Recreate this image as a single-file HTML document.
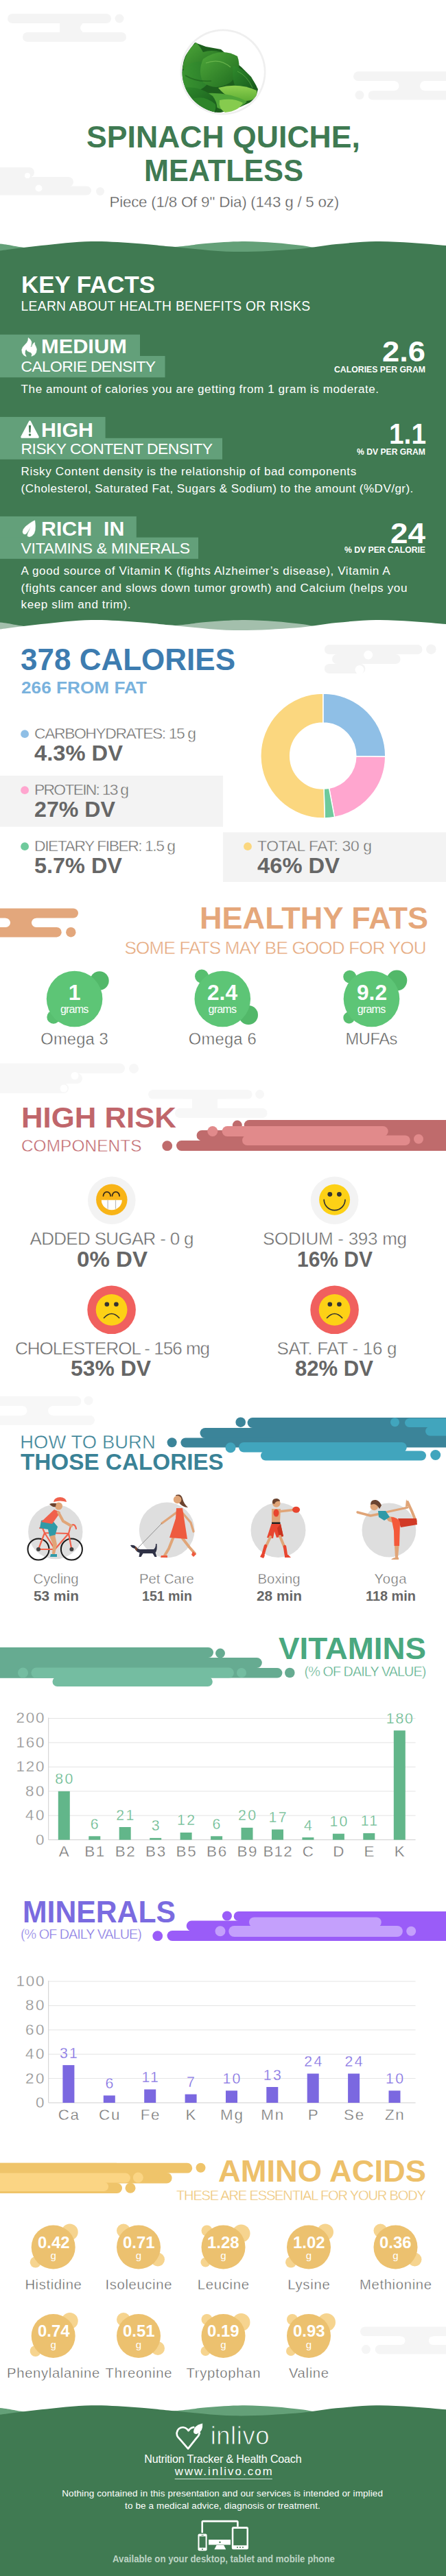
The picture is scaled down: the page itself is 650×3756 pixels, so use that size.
<!DOCTYPE html>
<html lang="en"><head><meta charset="utf-8"><title>Spinach Quiche, Meatless - Nutrition Facts</title>
<style>
html,body{margin:0;padding:0;background:#fff;}
#pg{position:relative;width:650px;height:3756px;overflow:hidden;background:#fff;font-family:"Liberation Sans",Arial,sans-serif;}
#pg svg.bg{position:absolute;left:0;top:0;}
.t{position:absolute;white-space:pre;line-height:1;margin:0;padding:0;}
</style></head><body>
<div id="pg">
<svg class="bg" width="650" height="3756" viewBox="0 0 650 3756">
<rect x="11" y="20" width="151" height="14" rx="7.0" fill="#f4f4f4"/>
<circle cx="174" cy="27" r="6.5" fill="#f4f4f4" />
<rect x="33" y="47" width="151" height="14" rx="7.0" fill="#f4f4f4"/>
<rect x="87" y="30" width="33" height="20" rx="0" fill="#f4f4f4"/>
<rect x="117" y="34" width="48" height="13" rx="6.5" fill="#fff"/>
<rect x="515" y="104.3" width="185" height="13.700000000000003" rx="6.850000000000001" fill="#f4f4f4"/>
<rect x="536.6" y="132.3" width="163.39999999999998" height="13.299999999999983" rx="6.6499999999999915" fill="#f4f4f4"/>
<circle cx="524" cy="138.6" r="6.5" fill="#f4f4f4" />
<rect x="575" y="110" width="43" height="28" rx="0" fill="#f4f4f4"/>
<rect x="500" y="118" width="81.5" height="14.300000000000011" rx="7.150000000000006" fill="#fff"/>
<rect x="612" y="118" width="88" height="14.300000000000011" rx="7.150000000000006" fill="#fff"/>
<rect x="-20" y="244" width="70" height="14.5" rx="7.25" fill="#f4f4f4"/>
<rect x="-20" y="258" width="127" height="14.5" rx="7.25" fill="#f4f4f4"/>
<rect x="-20" y="271.5" width="153" height="13.0" rx="6.5" fill="#f4f4f4"/>
<rect x="0" y="250" width="40" height="30" rx="0" fill="#f4f4f4"/>
<circle cx="146" cy="279" r="6" fill="#f4f4f4" />
<circle cx="40" cy="256" r="4" fill="#fff" />
<circle cx="56.5" cy="274.5" r="5" fill="#fff" />
<defs><clipPath id="spc"><circle cx="325" cy="105" r="59.500"/></clipPath><linearGradient id="lf1" x1="0" y1="0" x2="1" y2="1"><stop offset="0" stop-color="#4fa83a"/><stop offset="1" stop-color="#1f6b1f"/></linearGradient><linearGradient id="lf2" x1="0" y1="0" x2="1" y2="1"><stop offset="0" stop-color="#2f8a2c"/><stop offset="1" stop-color="#16561a"/></linearGradient><linearGradient id="lf3" x1="0" y1="0" x2="0" y2="1"><stop offset="0" stop-color="#8fd050"/><stop offset="1" stop-color="#5fae35"/></linearGradient><linearGradient id="lf4" x1="0" y1="0" x2="1" y2="0"><stop offset="0" stop-color="#3b9631"/><stop offset="1" stop-color="#2a7d2a"/></linearGradient></defs>
<circle cx="325" cy="105" r="62.5" fill="#efefef" />
<circle cx="325" cy="105" r="59.8" fill="#fff" />
<g clip-path="url(#spc)"><path d="M262,120 L268,84 L284,62 L300,68 L322,72 L340,88 L352,98 L366,112 L376,130 L372,146 L350,156 L322,164 L290,166 L262,150 Z" fill="#1d5f1d"/><path d="M266,100 q4,-26 20,-38 q6,6 10,14 q12,-4 26,0 q-8,14 -22,24 q-16,12 -34,0 Z" fill="url(#lf1)"/><path d="M262,112 q10,-24 32,-22 q18,10 12,28 q-14,20 -40,16 Z" fill="url(#lf4)"/><path d="M296,86 q26,-18 50,-4 q8,22 -10,38 q-22,14 -40,0 q-8,-16 0,-34 Z" fill="url(#lf1)"/><path d="M300,92 q20,-8 36,6" fill="none" stroke="#79c257" stroke-width="1.2" stroke-opacity="0.7"/><path d="M340,96 q22,6 34,30 q-4,12 -22,10 q-16,-10 -12,-40 Z" fill="url(#lf2)"/><path d="M346,104 q14,6 22,24" fill="none" stroke="#5fb048" stroke-width="1" stroke-opacity="0.7"/><path d="M318,128 q30,-8 56,4 q2,10 -8,14 q-28,6 -48,-18 Z" fill="url(#lf3)"/><path d="M300,136 q34,-2 60,12 q-10,12 -36,12 q-20,-6 -24,-24 Z" fill="#4fa538"/><path d="M320,146 q20,-4 34,4 q-6,12 -26,14 q-10,-6 -8,-18 Z" fill="#86cb4e"/><path d="M266,128 q24,-4 44,12 q10,14 4,26 q-30,6 -50,-14 Z" fill="url(#lf2)"/><path d="M280,144 q18,-6 34,8 q2,10 -6,16 q-20,0 -28,-24 Z" fill="#2d8429"/><path d="M270,110 q16,10 38,8" fill="none" stroke="#1a5a1a" stroke-width="1.5" stroke-opacity="0.6"/></g>
<path d="M-62.0,352.0 C-51.7,352.6 -17.8,353.9 0.0,355.6 C17.8,357.3 21.7,360.1 45.0,362.0 C68.3,363.9 105.2,367.3 140.0,367.0 C174.8,366.7 227.3,362.0 254.0,360.0 C280.7,358.0 283.5,356.3 300.0,355.0 C316.5,353.7 336.3,352.2 353.0,352.0 C369.7,351.8 385.5,353.0 400.0,354.0 C414.5,355.0 428.3,356.7 440.0,358.0 C451.7,359.3 450.0,360.5 470.0,362.0 C490.0,363.5 530.0,367.0 560.0,367.0 C590.0,367.0 633.3,363.0 650.0,362.0 C666.7,361.0 658.3,361.2 660.0,361.0 L660,500 L-62,500 Z" fill="#64a078"/>
<path d="M-10.0,366.5 C-8.3,366.3 -11.7,366.9 0.0,365.5 C11.7,364.1 37.8,360.2 60.0,358.0 C82.2,355.8 109.7,352.5 133.0,352.0 C156.3,351.5 180.5,353.7 200.0,355.0 C219.5,356.3 226.7,357.6 250.0,359.6 C273.3,361.6 310.0,366.4 340.0,367.0 C370.0,367.6 405.0,365.3 430.0,363.5 C455.0,361.7 470.3,357.9 490.0,356.0 C509.7,354.1 529.7,352.3 548.0,352.0 C566.3,351.7 583.0,353.0 600.0,354.0 C617.0,355.0 640.0,357.2 650.0,358.0 C660.0,358.8 658.3,358.8 660.0,359.0 L660,930 L-10,930 Z" fill="#407a52"/>
<path d="M-62.0,904.0 C-51.7,904.6 -17.8,905.9 0.0,907.6 C17.8,909.3 21.7,912.1 45.0,914.0 C68.3,915.9 105.2,919.3 140.0,919.0 C174.8,918.7 227.3,914.0 254.0,912.0 C280.7,910.0 283.5,908.3 300.0,907.0 C316.5,905.7 336.3,904.2 353.0,904.0 C369.7,903.8 385.5,905.0 400.0,906.0 C414.5,907.0 428.3,908.7 440.0,910.0 C451.7,911.3 450.0,912.5 470.0,914.0 C490.0,915.5 530.0,919.0 560.0,919.0 C590.0,919.0 633.3,915.0 650.0,914.0 C666.7,913.0 658.3,913.2 660.0,913.0 L660,940 L-62,940 Z" fill="#fff" fill-opacity="0.52"/>
<path d="M-10.0,918.5 C-8.3,918.3 -11.7,918.9 0.0,917.5 C11.7,916.1 37.8,912.2 60.0,910.0 C82.2,907.8 109.7,904.5 133.0,904.0 C156.3,903.5 180.5,905.7 200.0,907.0 C219.5,908.3 226.7,909.6 250.0,911.6 C273.3,913.6 310.0,918.4 340.0,919.0 C370.0,919.6 405.0,917.3 430.0,915.5 C455.0,913.7 470.3,909.9 490.0,908.0 C509.7,906.1 529.7,904.3 548.0,904.0 C566.3,903.7 583.0,905.0 600.0,906.0 C617.0,907.0 640.0,909.2 650.0,910.0 C660.0,910.8 658.3,910.8 660.0,911.0 L660,940 L-10,940 Z" fill="#fff"/>
<rect x="0" y="487.8" width="204" height="31.69999999999999" rx="0" fill="#63a07a"/>
<rect x="0" y="519" width="240.5" height="31.299999999999955" rx="0" fill="#63a07a"/>
<rect x="0" y="607.9" width="153.6" height="31.300000000000068" rx="0" fill="#63a07a"/>
<rect x="0" y="638.8" width="324" height="31.0" rx="0" fill="#63a07a"/>
<rect x="0" y="752.9" width="198.8" height="31.100000000000023" rx="0" fill="#63a07a"/>
<rect x="0" y="783.6" width="289" height="31.199999999999932" rx="0" fill="#63a07a"/>
<path d="M41.24,492.57 L44.29,495.24 L45.97,498.67 L45.66,502.10 L44.67,505.91 L46.43,505.91 L46.73,504.39 L48.10,501.34 L50.39,499.28 L50.77,502.48 L52.30,505.53 L53.44,509.34 L52.68,513.91 L50.39,517.34 L45.97,519.40 L46.58,516.35 L45.05,513.91 L42.39,513.00 L39.72,511.63 L38.20,508.96 L36.67,511.63 L36.29,515.44 L38.20,519.63 L34.77,518.11 L32.48,514.68 L31.72,510.10 L33.24,506.29 L35.91,503.24 L39.34,499.43 L40.86,496.38 Z" fill="#fff" stroke="#fff" stroke-width="0.6" stroke-linejoin="round"/>
<path d="M42.100,614.200 a1.600,1.600 0 0 1 2.800,0 L56.500,636.200 a1.700,1.700 0 0 1 -1.500,2.600 H32 a1.700,1.700 0 0 1 -1.500,-2.600 Z" fill="#fff"/>
<path d="M41.900,620.300 h3.200 l-0.600,10.400 h-2 Z" fill="#407a52"/><circle cx="43.500" cy="634" r="1.800" fill="#407a52"/>
<path d="M50.77,758.86 L47.34,760.38 L42.77,763.43 L37.43,767.62 L34.00,771.82 L33.01,775.63 L34.00,778.30 L36.29,779.06 L38.20,778.30 L41.24,774.10 L43.91,769.15 L44.67,767.62 L43.15,772.58 L40.86,777.15 L39.87,780.58 L40.48,782.11 L43.15,782.64 L46.58,781.34 L49.63,777.91 L51.15,773.34 L51.53,767.24 L51.15,761.91 Z" fill="#fff" stroke="#fff" stroke-width="0.5" stroke-linejoin="round"/>
<rect x="472.8" y="940" width="142.7" height="14" rx="7.0" fill="#f4f4f4"/>
<circle cx="628.3" cy="946.7" r="7.2" fill="#f4f4f4" />
<rect x="484" y="954" width="99.60000000000002" height="14" rx="7.0" fill="#f4f4f4"/>
<rect x="500" y="947" width="72" height="14" rx="0" fill="#f4f4f4"/>
<rect x="472.8" y="968" width="59.599999999999966" height="14" rx="7.0" fill="#f4f4f4"/>
<rect x="496" y="961" width="26" height="14" rx="0" fill="#f4f4f4"/>
<circle cx="536.7" cy="955" r="6.5" fill="#fff" />
<circle cx="524" cy="976.5" r="6.5" fill="#fff" />
<rect x="0" y="1131" width="325" height="74.5" rx="0" fill="#f3f3f3"/>
<rect x="325" y="1213.5" width="325" height="72.5" rx="0" fill="#f3f3f3"/>
<circle cx="36.1" cy="1070.2" r="5.9" fill="#8fbfe6" />
<circle cx="36.1" cy="1152.2" r="5.9" fill="#ffa6cf" />
<circle cx="36.1" cy="1234.2" r="5.9" fill="#6fca9c" />
<circle cx="361.0" cy="1234.2" r="5.9" fill="#fbd77f" />
<path d="M470.80,1011.00 A91,91 0 0 1 561.79,1103.20 L518.80,1102.63 A48,48 0 0 0 470.80,1054.00 Z" fill="#8fbfe6" stroke="#fff" stroke-width="1.5" stroke-linejoin="round"/>
<path d="M561.79,1103.20 A91,91 0 0 1 487.52,1191.45 L479.62,1149.18 A48,48 0 0 0 518.80,1102.63 Z" fill="#ffa6cf" stroke="#fff" stroke-width="1.5" stroke-linejoin="round"/>
<path d="M487.52,1191.45 A91,91 0 0 1 473.20,1192.97 L472.07,1149.98 A48,48 0 0 0 479.62,1149.18 Z" fill="#6fca9c" stroke="#fff" stroke-width="1.5" stroke-linejoin="round"/>
<path d="M473.20,1192.97 A91,91 0 1 1 470.80,1011.00 L470.80,1054.00 A48,48 0 1 0 472.07,1149.98 Z" fill="#fbd77f" stroke="#fff" stroke-width="1.5" stroke-linejoin="round"/>
<rect x="-20" y="1324.4" width="134" height="14.299999999999955" rx="7.149999999999977" fill="#e3a77c"/>
<rect x="-20" y="1352" width="109.7" height="14.400000000000091" rx="7.2000000000000455" fill="#e3a77c"/>
<rect x="8" y="1331" width="45" height="28" rx="0" fill="#e3a77c"/>
<rect x="-20" y="1338.7" width="35" height="13.299999999999955" rx="6.649999999999977" fill="#fff"/>
<rect x="46" y="1338.7" width="84" height="13.299999999999955" rx="6.649999999999977" fill="#fff"/>
<circle cx="103.3" cy="1359.2" r="7.2" fill="#e3a77c" />
<circle cx="145" cy="1430" r="13.7" fill="#52b869" />
<circle cx="78" cy="1483" r="9.7" fill="#58bf70" />
<circle cx="108.6" cy="1456.5" r="40.8" fill="#5dc576" />
<circle cx="294" cy="1423.5" r="10" fill="#58bf70" />
<circle cx="362" cy="1480" r="14" fill="#52b869" />
<circle cx="324.3" cy="1456.5" r="40.8" fill="#5dc576" />
<circle cx="578.3" cy="1429.6" r="15" fill="#52b869" />
<circle cx="509.7" cy="1424.2" r="9.4" fill="#58bf70" />
<circle cx="508.7" cy="1484" r="8.4" fill="#58bf70" />
<circle cx="541.5" cy="1456.5" r="40.8" fill="#5dc576" />
<rect x="-20" y="1550.6" width="202" height="14.400000000000091" rx="7.2000000000000455" fill="#f7f7f7"/>
<circle cx="195" cy="1558" r="7" fill="#f7f7f7" />
<rect x="-20" y="1565" width="140" height="15" rx="7.5" fill="#f7f7f7"/>
<rect x="-20" y="1579.5" width="120" height="14.5" rx="7.25" fill="#f7f7f7"/>
<rect x="0" y="1555" width="80" height="35" rx="0" fill="#f7f7f7"/>
<circle cx="109" cy="1568.5" r="5.5" fill="#fff" />
<circle cx="93" cy="1587" r="5.5" fill="#fff" />
<rect x="216" y="1589" width="151.60000000000002" height="13.5" rx="6.75" fill="#f7f7f7"/>
<circle cx="378.6" cy="1595.5" r="6.5" fill="#f7f7f7" />
<rect x="280" y="1595" width="37" height="27" rx="0" fill="#f7f7f7"/>
<rect x="255" y="1616" width="134.5" height="14" rx="7.0" fill="#f7f7f7"/>
<rect x="324" y="1602.5" width="76" height="13.5" rx="6.75" fill="#fff"/>
<rect x="200" y="1602.5" width="73" height="13.5" rx="6.75" fill="#fff"/>
<rect x="355.7" y="1633" width="344.3" height="15" rx="7.5" fill="#bf6b6c"/>
<circle cx="345.8" cy="1640.6" r="7" fill="#bf6b6c" />
<rect x="286.6" y="1648" width="413.4" height="15.299999999999955" rx="7.649999999999977" fill="#bf6b6c"/>
<rect x="257" y="1663" width="443" height="15" rx="7.5" fill="#bf6b6c"/>
<circle cx="243.7" cy="1670.7" r="7.4" fill="#bf6b6c" />
<rect x="400" y="1633" width="250" height="45" rx="0" fill="#bf6b6c"/>
<circle cx="309.8" cy="1649.5" r="7.5" fill="#e18a8b" />
<rect x="323.6" y="1642" width="242.10000000000002" height="15" rx="7.5" fill="#e18a8b"/>
<rect x="353" y="1655.5" width="244.70000000000005" height="14.5" rx="7.25" fill="#e18a8b"/>
<rect x="360" y="1648" width="195" height="14" rx="0" fill="#e18a8b"/>
<circle cx="610" cy="1660.8" r="7" fill="#e18a8b" />
<circle cx="162.8" cy="1750.3" r="34.8" fill="#f3f3f3" />
<circle cx="162.8" cy="1749.3" r="22.7" fill="#f8b417" />
<path d="M150.5,1743.8 a5.3,6 0 0 1 10.6,0 M163.5,1743.8 a5.3,6 0 0 1 10.6,0" fill="none" stroke="#3a2d1a" stroke-width="1.8" stroke-linecap="round"/>
<path d="M147.8,1749.8 h30 a15,14.5 0 0 1 -30,0 Z" fill="#fff"/>
<path d="M157.10000000000002,1749.8 v13 M168.5,1749.8 v13" stroke="#bbb" stroke-width="1.2"/>
<circle cx="487.6" cy="1750.3" r="34.8" fill="#f3f3f3" />
<circle cx="487.6" cy="1749.3" r="22.5" fill="#fdd116" />
<circle cx="480.8" cy="1741.3" r="3.4" fill="#333" />
<circle cx="494.40000000000003" cy="1741.3" r="3.4" fill="#333" />
<path d="M472.20000000000005,1749.3 a15.4,15.4 0 0 0 30.8,0" fill="none" stroke="#333" stroke-width="1.7" stroke-linecap="round"/>
<circle cx="162.6" cy="1909.8" r="35.3" fill="#f0605e" />
<circle cx="162.6" cy="1909.8" r="22.9" fill="#fdd116" />
<circle cx="155.79999999999998" cy="1901.8" r="3.3" fill="#333" />
<circle cx="169.4" cy="1901.8" r="3.3" fill="#333" />
<path d="M151.6,1921.5 q11,-12 22,0" fill="none" stroke="#333" stroke-width="1.7" stroke-linecap="round"/>
<circle cx="487.6" cy="1909.8" r="35.3" fill="#f0605e" />
<circle cx="487.6" cy="1909.8" r="22.9" fill="#fdd116" />
<circle cx="480.8" cy="1901.8" r="3.3" fill="#333" />
<circle cx="494.40000000000003" cy="1901.8" r="3.3" fill="#333" />
<path d="M476.6,1921.5 q11,-12 22,0" fill="none" stroke="#333" stroke-width="1.7" stroke-linecap="round"/>
<rect x="-20" y="2035.8" width="138.4" height="14.200000000000045" rx="7.100000000000023" fill="#f7f7f7"/>
<circle cx="129" cy="2042.2" r="6.5" fill="#f7f7f7" />
<rect x="-20" y="2063.7" width="158" height="14.300000000000182" rx="7.150000000000091" fill="#f7f7f7"/>
<rect x="32" y="2043" width="45" height="28" rx="0" fill="#f7f7f7"/>
<rect x="-20" y="2050" width="59.5" height="13.699999999999818" rx="6.849999999999909" fill="#fff"/>
<rect x="70" y="2050" width="90" height="13.699999999999818" rx="6.849999999999909" fill="#fff"/>
<rect x="360.6" y="2067" width="339.4" height="15" rx="7.5" fill="#3b8499"/>
<circle cx="350.7" cy="2073.7" r="7.3" fill="#3b8499" />
<rect x="291.5" y="2082" width="408.5" height="15" rx="7.5" fill="#3b8499"/>
<rect x="263.4" y="2096.5" width="436.6" height="14.0" rx="7.0" fill="#3b8499"/>
<circle cx="250.6" cy="2103.3" r="7" fill="#3b8499" />
<rect x="400" y="2067" width="250" height="36" rx="0" fill="#3b8499"/>
<circle cx="336" cy="2110.7" r="7.5" fill="#41a5bd" />
<rect x="348" y="2103" width="244.79999999999995" height="14.5" rx="7.25" fill="#41a5bd"/>
<rect x="380" y="2115.5" width="241" height="14.0" rx="7.0" fill="#41a5bd"/>
<rect x="390" y="2108" width="195" height="14" rx="0" fill="#41a5bd"/>
<circle cx="634.7" cy="2121.5" r="7.5" fill="#41a5bd" />
<circle cx="575.5" cy="2073.7" r="6.5" fill="#41a5bd" />
<rect x="590" y="2068" width="110" height="13" rx="6.5" fill="#41a5bd"/>
<rect x="620" y="2080" width="80" height="13.400000000000091" rx="6.7000000000000455" fill="#41a5bd"/>
<rect x="630" y="2072" width="20" height="16" rx="0" fill="#41a5bd"/>
<circle cx="80.8" cy="2233.5" r="39.7" fill="#dedede" />
<g fill="none" stroke-linecap="round" stroke-linejoin="round"><circle cx="56" cy="2259" r="15.5" stroke="#1a1a1a" stroke-width="2"/><circle cx="104.4" cy="2259" r="15.5" stroke="#1a1a1a" stroke-width="2"/><path d="M56,2259 L65,2235 L100,2236 L104.4,2259 M65,2235 L62,2228 M58,2228 h8 M65,2235 L80,2259 L100,2236 M56,2259 L80,2259 M100,2236 L103,2225 q6,-5 8,4" stroke="#f0614c" stroke-width="2.2"/></g>
<circle cx="56" cy="2259" r="3" fill="#444" />
<circle cx="104.4" cy="2259" r="3" fill="#444" />
<path d="M60,2217 L74,2214 L84,2226 L80,2240 L72,2240 L70,2230 L58,2228 Z" fill="#2f9aa7"/>
<path d="M80,2238 L83,2252 L80,2266 L76,2266 L77,2252 L72,2240 Z" fill="#e0a578"/>
<path d="M74,2266 h9 v4 h-10 Z" fill="#2f9aa7"/>
<path d="M79,2201 L88,2205 L76,2222 L60,2219 Z" fill="#f0614c"/>
<path d="M85,2205 L92,2218 L104,2225" fill="none" stroke="#e0a578" stroke-width="4" stroke-linecap="round" stroke-linejoin="round"/>
<circle cx="85.5" cy="2196" r="5.5" fill="#e0a578" />
<path d="M82,2192 q-6,-1 -10,1 q4,5 9,4 Z" fill="#6b432f"/>
<path d="M78,2190 a9.5,7 0 0 1 19,0 q-9,-3 -19,0 Z" fill="#f0614c"/>
<circle cx="243.2" cy="2231" r="40.4" fill="#dedede" />
<path d="M256,2180 q8,-3 10,5 q2,8 8,13 q-8,0 -14,-8 Z" fill="#6b432f"/>
<circle cx="258.6" cy="2186.5" r="5.8" fill="#e0a578" />
<path d="M259,2204 L236,2221" stroke="#e0a578" stroke-width="3.2" stroke-linecap="round"/>
<path d="M266,2206 L278,2220 L282,2233" fill="none" stroke="#e0a578" stroke-width="3.2" stroke-linecap="round" stroke-linejoin="round"/>
<path d="M252,2243 L246,2258 L240,2268" fill="none" stroke="#e0a578" stroke-width="4" stroke-linecap="round" stroke-linejoin="round"/>
<path d="M266,2243 L276,2256 L284,2265" fill="none" stroke="#e0a578" stroke-width="4" stroke-linecap="round" stroke-linejoin="round"/>
<path d="M257,2199 L266,2199 L268,2212 L273,2244 L247,2242 L256,2214 Z" fill="#ee5b3f"/>
<path d="M235,2268 h9 v3 h-10 Z M281,2262 l5,4 l-4,4 l-3,-3 Z" fill="#ee5b3f"/>
<path d="M236,2221 L201,2257" stroke="#777" stroke-width="0.8"/>
<path d="M190,2253 q5,-1 8,2 q2,3 6,4 h20 q3,-2 3,-8 l1.5,0 q1,9 -2,13 l2,6 h-3 l-3,-5 h-14 l-3,5 h-3 l1,-6 q-5,-1 -7,-6 q-5,-1 -6.500,-5 Z" fill="#2f3246"/>
<path d="M197,2255 q3,1 3,6 q-3,0 -3,-6 Z" fill="#8a4b2d"/>
<circle cx="405.5" cy="2231" r="40" fill="#dedede" />
<path d="M396,2200 h13 l-1,20 h-12 Z" fill="#e0a578"/>
<circle cx="402.8" cy="2192" r="5.8" fill="#e0a578" />
<path d="M397,2192 q-1,-8 7,-7 q4,1 4,4 q-6,-1 -8,4 Z" fill="#6b432f"/>
<path d="M406,2204 L428,2201.500" stroke="#e0a578" stroke-width="3.400" stroke-linecap="round"/>
<rect x="396" y="2219.500" width="12.500" height="2.800" fill="#222"/>
<path d="M395.500,2222 h13.500 l4,18 l-10,2 l-3,-9 l-2,10 l-9,-1 Z" fill="#e8452f"/>
<path d="M404,2228 l5,-6 l4,18 l-6,1.500 Z" fill="#c9331f"/>
<path d="M394,2241 L387,2256 M408,2240 L415,2257" stroke="#e0a578" stroke-width="4" stroke-linecap="round"/>
<path d="M387,2254 L383,2268 M415,2255 L417,2268" stroke="#e8452f" stroke-width="4.500" stroke-linecap="round"/>
<path d="M381,2266 l5,2 l-2,4 l-5,-2 Z M415,2267 h5 l4,4 h-9 Z" fill="#e8452f"/>
<ellipse cx="431.600" cy="2201.300" rx="5.500" ry="4.500" fill="#e8452f"/><ellipse cx="402.500" cy="2206" rx="4" ry="5.500" fill="#e8452f"/>
<circle cx="566.9" cy="2231" r="39.4" fill="#dedede" />
<path d="M555,2207 L540,2210 L521,2205" fill="none" stroke="#e0a578" stroke-width="3.400" stroke-linecap="round" stroke-linejoin="round"/>
<path d="M562,2205 L594,2198" stroke="#e0a578" stroke-width="3.200" stroke-linecap="round"/>
<path d="M606,2218 L600,2203 L594,2190" fill="none" stroke="#e0a578" stroke-width="4" stroke-linecap="round" stroke-linejoin="round"/>
<path d="M592,2186 l4,10 l-5,1 Z" fill="#e0a578"/>
<path d="M580,2214 L607,2214 L608,2223 L584,2227 Z" fill="#d13a26"/>
<path d="M560,2210 L574,2212 L578,2222 L566,2218 Z" fill="#e0a578"/>
<path d="M551,2203 L562,2203 L568,2212 L560,2217 L552,2212 Z" fill="#2f9aa7"/>
<path d="M570,2212 q10,0 13,8 L582,2254 L574.500,2254 L574,2232 Z" fill="#f4593a"/>
<path d="M575,2254 h6.500 l-1.500,17 h-4 Z" fill="#e0a578"/><path d="M570,2274 q4,-4 11,-3 v3 Z" fill="#e0a578"/>
<circle cx="545.4" cy="2196.5" r="5.8" fill="#e0a578" />
<path d="M540,2194 q0,-8 8,-7 q5,1 8,8 l-3,5 q-3,-6 -8,-7 Z" fill="#6b432f"/>
<rect x="-20" y="2402" width="331" height="15" rx="7.5" fill="#66ab91"/>
<circle cx="321" cy="2410.6" r="7" fill="#66ab91" />
<rect x="-20" y="2417" width="401.8" height="15" rx="7.5" fill="#66ab91"/>
<rect x="-20" y="2432" width="431.4" height="14.599999999999909" rx="7.2999999999999545" fill="#66ab91"/>
<circle cx="422.3" cy="2439" r="7.3" fill="#66ab91" />
<rect x="0" y="2402" width="300" height="44.59999999999991" rx="0" fill="#66ab91"/>
<circle cx="33.5" cy="2439" r="7.5" fill="#74bda1" />
<rect x="45.4" y="2431.5" width="295.5" height="15.099999999999909" rx="7.5499999999999545" fill="#74bda1"/>
<rect x="76.5" y="2445" width="233.3" height="14" rx="7.0" fill="#74bda1"/>
<rect x="85" y="2438" width="215" height="14" rx="0" fill="#74bda1"/>
<circle cx="352" cy="2439" r="7" fill="#74bda1" />
<path d="M70.7,2682.6 H605.6" stroke="#cfcfcf" stroke-width="1"/>
<path d="M70.7,2647.2 H605.6" stroke="#e4e4e4" stroke-width="1"/>
<path d="M70.7,2611.8 H605.6" stroke="#e4e4e4" stroke-width="1"/>
<path d="M70.7,2576.3 H605.6" stroke="#e4e4e4" stroke-width="1"/>
<path d="M70.7,2540.9 H605.6" stroke="#e4e4e4" stroke-width="1"/>
<path d="M70.7,2505.5 H605.6" stroke="#e4e4e4" stroke-width="1"/>
<path d="M70.7,2504.5 V2682.6" stroke="#cfcfcf" stroke-width="1"/>
<rect x="84.8" y="2611.8" width="17" height="70.8" fill="#62b68a"/>
<rect x="129.3" y="2677.3" width="17" height="5.3" fill="#62b68a"/>
<rect x="173.7" y="2664.0" width="17" height="18.6" fill="#62b68a"/>
<rect x="218.2" y="2679.9" width="17" height="2.7" fill="#62b68a"/>
<rect x="262.6" y="2672.0" width="17" height="10.6" fill="#62b68a"/>
<rect x="307.1" y="2677.3" width="17" height="5.3" fill="#62b68a"/>
<rect x="351.5" y="2664.9" width="17" height="17.7" fill="#62b68a"/>
<rect x="396.0" y="2667.5" width="17" height="15.1" fill="#62b68a"/>
<rect x="440.4" y="2679.1" width="17" height="3.5" fill="#62b68a"/>
<rect x="484.9" y="2673.7" width="17" height="8.9" fill="#62b68a"/>
<rect x="529.3" y="2672.9" width="17" height="9.7" fill="#62b68a"/>
<rect x="573.8" y="2523.2" width="17" height="159.4" fill="#62b68a"/>
<rect x="340.7" y="2787" width="359.3" height="14" rx="7.0" fill="#9a5cf8"/>
<circle cx="330.9" cy="2793.5" r="7" fill="#9a5cf8" />
<rect x="271.7" y="2800.5" width="428.3" height="15.0" rx="7.5" fill="#9a5cf8"/>
<rect x="243.5" y="2815" width="456.5" height="15" rx="7.5" fill="#9a5cf8"/>
<circle cx="229.7" cy="2822.7" r="7.4" fill="#9a5cf8" />
<rect x="400" y="2787" width="250" height="43" rx="0" fill="#9a5cf8"/>
<circle cx="321" cy="2815.7" r="7.5" fill="#c4a0fc" />
<rect x="363" y="2795.5" width="192.79999999999995" height="14.5" rx="7.25" fill="#c4a0fc"/>
<rect x="333.3" y="2808" width="253.59999999999997" height="16" rx="8.0" fill="#c4a0fc"/>
<rect x="372" y="2802" width="176" height="14" rx="0" fill="#c4a0fc"/>
<circle cx="599.2" cy="2815.7" r="7" fill="#c4a0fc" />
<path d="M70.7,3066.0 H605.6" stroke="#cfcfcf" stroke-width="1"/>
<path d="M70.7,3030.6 H605.6" stroke="#e4e4e4" stroke-width="1"/>
<path d="M70.7,2995.2 H605.6" stroke="#e4e4e4" stroke-width="1"/>
<path d="M70.7,2959.8 H605.6" stroke="#e4e4e4" stroke-width="1"/>
<path d="M70.7,2924.4 H605.6" stroke="#e4e4e4" stroke-width="1"/>
<path d="M70.7,2889.0 H605.6" stroke="#e4e4e4" stroke-width="1"/>
<path d="M70.7,2888.0 V3066.0" stroke="#cfcfcf" stroke-width="1"/>
<rect x="91.4" y="3011.1" width="17" height="54.9" fill="#7b68e0"/>
<rect x="150.8" y="3055.4" width="17" height="10.6" fill="#7b68e0"/>
<rect x="210.2" y="3046.5" width="17" height="19.5" fill="#7b68e0"/>
<rect x="269.6" y="3053.6" width="17" height="12.4" fill="#7b68e0"/>
<rect x="329.0" y="3048.3" width="17" height="17.7" fill="#7b68e0"/>
<rect x="388.3" y="3043.0" width="17" height="23.0" fill="#7b68e0"/>
<rect x="447.7" y="3023.5" width="17" height="42.5" fill="#7b68e0"/>
<rect x="507.1" y="3023.5" width="17" height="42.5" fill="#7b68e0"/>
<rect x="566.5" y="3048.3" width="17" height="17.7" fill="#7b68e0"/>
<rect x="-20" y="3153.8" width="300.2" height="14.799999999999727" rx="7.399999999999864" fill="#efc46a"/>
<circle cx="292.5" cy="3160.7" r="7" fill="#efc46a" />
<rect x="-20" y="3168" width="270.6" height="15.400000000000091" rx="7.7000000000000455" fill="#efc46a"/>
<rect x="-20" y="3183" width="198" height="15" rx="7.5" fill="#efc46a"/>
<circle cx="190" cy="3190.3" r="7.5" fill="#efc46a" />
<rect x="0" y="3153.8" width="170" height="44.19999999999982" rx="0" fill="#efc46a"/>
<rect x="-20" y="3168.6" width="210" height="13.900000000000091" rx="6.9500000000000455" fill="#fbd584"/>
<rect x="-20" y="3181.5" width="178" height="13.5" rx="6.75" fill="#fbd584"/>
<circle cx="201.3" cy="3175" r="7.5" fill="#fbd584" />
<circle cx="101.7" cy="3254.5" r="12" fill="#f6d48f" />
<circle cx="51.7" cy="3298.5" r="8" fill="#f6d48f" />
<circle cx="77.7" cy="3276.5" r="32" fill="#ecc16f" />
<circle cx="180" cy="3252.5" r="10" fill="#f6d48f" />
<circle cx="230" cy="3294.5" r="10" fill="#f6d48f" />
<circle cx="202" cy="3276.5" r="32" fill="#ecc16f" />
<circle cx="351.5" cy="3256.5" r="13" fill="#f6d48f" />
<circle cx="301.5" cy="3252.5" r="8" fill="#f6d48f" />
<circle cx="299.5" cy="3298.5" r="7" fill="#f6d48f" />
<circle cx="325.5" cy="3276.5" r="32" fill="#ecc16f" />
<circle cx="474" cy="3254.5" r="12" fill="#f6d48f" />
<circle cx="424" cy="3298.5" r="8" fill="#f6d48f" />
<circle cx="450" cy="3276.5" r="32" fill="#ecc16f" />
<circle cx="554.5" cy="3252.5" r="10" fill="#f6d48f" />
<circle cx="604.5" cy="3294.5" r="10" fill="#f6d48f" />
<circle cx="576.5" cy="3276.5" r="32" fill="#ecc16f" />
<circle cx="101.7" cy="3384" r="12" fill="#f6d48f" />
<circle cx="51.7" cy="3428" r="8" fill="#f6d48f" />
<circle cx="77.7" cy="3406" r="32" fill="#ecc16f" />
<circle cx="180" cy="3382" r="10" fill="#f6d48f" />
<circle cx="230" cy="3424" r="10" fill="#f6d48f" />
<circle cx="202" cy="3406" r="32" fill="#ecc16f" />
<circle cx="351.5" cy="3386" r="13" fill="#f6d48f" />
<circle cx="301.5" cy="3382" r="8" fill="#f6d48f" />
<circle cx="299.5" cy="3428" r="7" fill="#f6d48f" />
<circle cx="325.5" cy="3406" r="32" fill="#ecc16f" />
<circle cx="476" cy="3386" r="13" fill="#f6d48f" />
<circle cx="426" cy="3382" r="8" fill="#f6d48f" />
<circle cx="424" cy="3428" r="7" fill="#f6d48f" />
<circle cx="450" cy="3406" r="32" fill="#ecc16f" />
<rect x="525" y="3392.4" width="175" height="14.099999999999909" rx="7.0499999999999545" fill="#f5f5f5"/>
<rect x="546.7" y="3419" width="153.29999999999995" height="13.400000000000091" rx="6.7000000000000455" fill="#f5f5f5"/>
<rect x="583" y="3399" width="49" height="27" rx="0" fill="#f5f5f5"/>
<rect x="500" y="3406.5" width="90.5" height="12.5" rx="6.25" fill="#fff"/>
<rect x="624.8" y="3406.5" width="75.20000000000005" height="12.5" rx="6.25" fill="#fff"/>
<circle cx="533.4" cy="3425.6" r="6.5" fill="#f5f5f5" />
<path d="M-62.0,3507.3 C-51.7,3507.9 -17.8,3509.2 0.0,3510.9 C17.8,3512.6 21.7,3515.4 45.0,3517.3 C68.3,3519.2 105.2,3522.6 140.0,3522.3 C174.8,3522.0 227.3,3517.3 254.0,3515.3 C280.7,3513.3 283.5,3511.6 300.0,3510.3 C316.5,3509.0 336.3,3507.5 353.0,3507.3 C369.7,3507.1 385.5,3508.3 400.0,3509.3 C414.5,3510.3 428.3,3512.0 440.0,3513.3 C451.7,3514.6 450.0,3515.8 470.0,3517.3 C490.0,3518.8 530.0,3522.3 560.0,3522.3 C590.0,3522.3 633.3,3518.3 650.0,3517.3 C666.7,3516.3 658.3,3516.5 660.0,3516.3 L660,3800 L-62,3800 Z" fill="#64a078"/>
<path d="M-10.0,3521.8 C-8.3,3521.6 -11.7,3522.2 0.0,3520.8 C11.7,3519.4 37.8,3515.6 60.0,3513.3 C82.2,3511.1 109.7,3507.8 133.0,3507.3 C156.3,3506.8 180.5,3509.0 200.0,3510.3 C219.5,3511.6 226.7,3512.9 250.0,3514.9 C273.3,3516.9 310.0,3521.7 340.0,3522.3 C370.0,3523.0 405.0,3520.6 430.0,3518.8 C455.0,3517.0 470.3,3513.2 490.0,3511.3 C509.7,3509.4 529.7,3507.6 548.0,3507.3 C566.3,3507.0 583.0,3508.3 600.0,3509.3 C617.0,3510.3 640.0,3512.5 650.0,3513.3 C660.0,3514.1 658.3,3514.1 660.0,3514.3 L660,3800 L-10,3800 Z" fill="#407a52"/>
<g transform="translate(275.2,3552.5) scale(1.08) translate(-275,-3552.5)"><g fill="none" stroke="#fff" stroke-width="2.5" stroke-linecap="round" stroke-linejoin="round"><path d="M274,3569 L260.5,3553.5 a8.2,8.2 0 0 1 12.5,-10.600 l1.500,1.800 l1.500,-1.800 q2.400,-2.600 5.500,-2.800 M289.500,3548 q-0.800,3.500 -4,6.500 L274,3569"/></g><path d="M281.500,3547.500 q-1,-9.500 12,-12.500 q1,11.500 -7.500,14 q-3,0.800 -4.500,-1.500 Z" fill="#fff"/></g>
<path d="M254.700,3614.500 H396.800" stroke="#fff" stroke-width="1" stroke-opacity="0.8"/>
<g fill="#fff"><path d="M293.400,3693 V3677.500 a2.700,2.700 0 0 1 2.700,-2.700 H345 a2.700,2.700 0 0 1 2.700,2.700 V3684 h-2.600 v-6.600 H296 V3693 Z"/><rect x="304" y="3703" width="32" height="7.500"/><path d="M315.600,3711 h10.600 l3,6.200 h-16.800 Z"/><rect x="288.500" y="3694.500" width="13.100" height="24.700" rx="2"/><rect x="337.800" y="3684.200" width="24.200" height="33" rx="2.200"/></g>
<g fill="#407a52"><rect x="290.500" y="3698.200" width="9.100" height="16.500"/><rect x="293.500" y="3696" width="3.200" height="0.900"/><circle cx="295" cy="3717" r="1"/><rect x="340.300" y="3687" width="19.200" height="24.300"/><circle cx="346" cy="3714.300" r="1"/><circle cx="350" cy="3714.300" r="1"/><circle cx="354" cy="3714.300" r="1"/><circle cx="320.500" cy="3706.700" r="1.200"/></g>
</svg>
<div class="t" style="left:125.5px;top:176.7px;font-size:44.8px;color:#3f7a52;font-weight:700;transform:scaleX(0.9956);transform-origin:0 0;">SPINACH QUICHE,</div>
<div class="t" style="left:210.0px;top:226.3px;font-size:44.8px;color:#3f7a52;font-weight:700;transform:scaleX(0.9642);transform-origin:0 0;">MEATLESS</div>
<div class="t" style="left:159.5px;top:283.8px;font-size:22.4px;color:#555;letter-spacing:-0.24px;-webkit-text-stroke:0.4px #fff;">Piece (1/8 Of 9'' Dia) (143 g / 5 oz)</div>
<div class="t" style="left:30.6px;top:398.0px;font-size:35.4px;color:#fff;font-weight:700;transform:scaleX(0.9847);transform-origin:0 0;">KEY FACTS</div>
<div class="t" style="left:30.6px;top:437.2px;font-size:19.3px;color:#fff;letter-spacing:0.28px;">LEARN ABOUT HEALTH BENEFITS OR RISKS</div>
<div class="t" style="left:59.8px;top:491.0px;font-size:28.6px;color:#fff;font-weight:700;transform:scaleX(1.0760);transform-origin:0 0;">MEDIUM</div>
<div class="t" style="left:30.6px;top:523.0px;font-size:22.9px;color:#fff;letter-spacing:-0.69px;">CALORIE DENSITY</div>
<div class="t" style="left:30.6px;top:558.7px;font-size:17.1px;color:#fff;letter-spacing:0.55px;">The amount of calories you are getting from 1 gram is moderate.</div>
<div class="t" style="left:557.0px;top:490.9px;font-size:42.7px;color:#fff;font-weight:700;transform:scaleX(1.0613);transform-origin:0 0;">2.6</div>
<div class="t" style="left:487.0px;top:532.0px;font-size:13.0px;color:#fff;font-weight:700;transform:scaleX(0.9443);transform-origin:0 0;">CALORIES PER GRAM</div>
<div class="t" style="left:60.3px;top:613.0px;font-size:28.6px;color:#fff;font-weight:700;transform:scaleX(1.0629);transform-origin:0 0;">HIGH</div>
<div class="t" style="left:30.6px;top:643.0px;font-size:22.9px;color:#fff;letter-spacing:-0.55px;">RISKY CONTENT DENSITY</div>
<div class="t" style="left:30.6px;top:678.8px;font-size:17.1px;color:#fff;letter-spacing:0.61px;">Risky Content density is the relationship of bad components</div>
<div class="t" style="left:30.6px;top:703.5px;font-size:17.1px;color:#fff;letter-spacing:0.43px;">(Cholesterol, Saturated Fat, Sugars &amp; Sodium) to the amount (%DV/gr).</div>
<div class="t" style="left:567.0px;top:610.9px;font-size:42.7px;color:#fff;font-weight:700;transform:scaleX(0.9097);transform-origin:0 0;">1.1</div>
<div class="t" style="left:520.0px;top:652.0px;font-size:13.0px;color:#fff;font-weight:700;transform:scaleX(0.9354);transform-origin:0 0;">% DV PER GRAM</div>
<div class="t" style="left:60.2px;top:757.1px;font-size:28.6px;color:#fff;font-weight:700;transform:scaleX(1.0603);transform-origin:0 0;">RICH  IN</div>
<div class="t" style="left:30.6px;top:788.2px;font-size:22.9px;color:#fff;letter-spacing:-0.28px;">VITAMINS &amp; MINERALS</div>
<div class="t" style="left:30.6px;top:823.7px;font-size:17.1px;color:#fff;letter-spacing:0.58px;">A good source of Vitamin K (fights Alzheimer’s disease), Vitamin A</div>
<div class="t" style="left:30.6px;top:848.5px;font-size:17.1px;color:#fff;letter-spacing:0.62px;">(fights cancer and slows down tumor growth) and Calcium (helps you</div>
<div class="t" style="left:30.6px;top:873.3px;font-size:17.1px;color:#fff;letter-spacing:0.57px;">keep slim and trim).</div>
<div class="t" style="left:569.0px;top:755.5px;font-size:42.7px;color:#fff;font-weight:700;transform:scaleX(1.0738);transform-origin:0 0;">24</div>
<div class="t" style="left:502.0px;top:795.0px;font-size:13.0px;color:#fff;font-weight:700;transform:scaleX(0.9389);transform-origin:0 0;">% DV PER CALORIE</div>
<div class="t" style="left:30.0px;top:940.2px;font-size:44.0px;color:#3d7cb0;font-weight:700;transform:scaleX(1.0000);transform-origin:0 0;">378 CALORIES</div>
<div class="t" style="left:30.6px;top:991.1px;font-size:24.7px;color:#79b2dd;font-weight:700;transform:scaleX(1.0611);transform-origin:0 0;">266 FROM FAT</div>
<div class="t" style="left:50.1px;top:1057.8px;font-size:22.9px;color:#6c6c6c;letter-spacing:-1.43px;-webkit-text-stroke:0.45px #fff;">CARBOHYDRATES: 15 g</div>
<div class="t" style="left:50.1px;top:1083.3px;font-size:31.0px;color:#666;font-weight:700;transform:scaleX(1.0545);transform-origin:0 0;">4.3% DV</div>
<div class="t" style="left:50.1px;top:1139.8px;font-size:22.9px;color:#6c6c6c;letter-spacing:-1.76px;-webkit-text-stroke:0.45px #f3f3f3;">PROTEIN: 13 g</div>
<div class="t" style="left:50.1px;top:1165.3px;font-size:31.0px;color:#666;font-weight:700;transform:scaleX(1.0376);transform-origin:0 0;">27% DV</div>
<div class="t" style="left:50.1px;top:1221.8px;font-size:22.9px;color:#6c6c6c;letter-spacing:-1.48px;-webkit-text-stroke:0.45px #fff;">DIETARY FIBER: 1.5 g</div>
<div class="t" style="left:50.1px;top:1247.3px;font-size:31.0px;color:#666;font-weight:700;transform:scaleX(1.0463);transform-origin:0 0;">5.7% DV</div>
<div class="t" style="left:375.0px;top:1221.8px;font-size:22.9px;color:#6c6c6c;letter-spacing:-0.37px;-webkit-text-stroke:0.45px #f3f3f3;">TOTAL FAT: 30 g</div>
<div class="t" style="left:375.0px;top:1247.3px;font-size:31.0px;color:#666;font-weight:700;transform:scaleX(1.0552);transform-origin:0 0;">46% DV</div>
<div class="t" style="left:290.5px;top:1316.6px;font-size:44.5px;color:#e5a77b;font-weight:700;transform:scaleX(1.0127);transform-origin:0 0;">HEALTHY FATS</div>
<div class="t" style="left:181.5px;top:1368.5px;font-size:26.0px;color:#e5a77b;letter-spacing:-0.78px;-webkit-text-stroke:0.45px #fff;">SOME FATS MAY BE GOOD FOR YOU</div>
<div class="t" style="left:99.7px;top:1430.9px;font-size:32.0px;color:#fff;font-weight:700;">1</div>
<div class="t" style="left:87.9px;top:1463.4px;font-size:16.1px;color:#fff;letter-spacing:-0.83px;">grams</div>
<div class="t" style="left:59.3px;top:1504.4px;font-size:23.7px;color:#5c5c5c;letter-spacing:0.17px;-webkit-text-stroke:0.45px #fff;">Omega 3</div>
<div class="t" style="left:302.3px;top:1430.9px;font-size:32.0px;color:#fff;font-weight:700;transform:scaleX(0.9891);transform-origin:0 0;">2.4</div>
<div class="t" style="left:303.6px;top:1463.4px;font-size:16.1px;color:#fff;letter-spacing:-0.83px;">grams</div>
<div class="t" style="left:274.8px;top:1504.4px;font-size:23.7px;color:#5c5c5c;letter-spacing:0.25px;-webkit-text-stroke:0.45px #fff;">Omega 6</div>
<div class="t" style="left:519.5px;top:1430.9px;font-size:32.0px;color:#fff;font-weight:700;transform:scaleX(0.9891);transform-origin:0 0;">9.2</div>
<div class="t" style="left:520.8px;top:1463.4px;font-size:16.1px;color:#fff;letter-spacing:-0.83px;">grams</div>
<div class="t" style="left:503.5px;top:1504.4px;font-size:23.7px;color:#5c5c5c;letter-spacing:-0.42px;-webkit-text-stroke:0.45px #fff;">MUFAs</div>
<div class="t" style="left:30.6px;top:1608.1px;font-size:42.7px;color:#c0666b;font-weight:700;transform:scaleX(1.0243);transform-origin:0 0;">HIGH RISK</div>
<div class="t" style="left:30.9px;top:1658.9px;font-size:24.4px;color:#c0666b;letter-spacing:0.08px;-webkit-text-stroke:0.45px #fff;">COMPONENTS</div>
<div class="t" style="left:43.5px;top:1793.0px;font-size:26.0px;color:#6c6c6c;letter-spacing:-0.68px;-webkit-text-stroke:0.45px #fff;">ADDED SUGAR - 0 g</div>
<div class="t" style="left:111.5px;top:1820.5px;font-size:31.3px;color:#666;font-weight:700;transform:scaleX(1.0573);transform-origin:0 0;">0% DV</div>
<div class="t" style="left:383.0px;top:1793.0px;font-size:26.0px;color:#6c6c6c;letter-spacing:-0.27px;-webkit-text-stroke:0.45px #fff;">SODIUM - 393 mg</div>
<div class="t" style="left:433.0px;top:1820.5px;font-size:31.3px;color:#666;font-weight:700;transform:scaleX(0.9580);transform-origin:0 0;">16% DV</div>
<div class="t" style="left:22.0px;top:1952.5px;font-size:26.0px;color:#6c6c6c;letter-spacing:-0.97px;-webkit-text-stroke:0.45px #fff;">CHOLESTEROL - 156 mg</div>
<div class="t" style="left:102.5px;top:1979.5px;font-size:31.3px;color:#666;font-weight:700;transform:scaleX(1.0189);transform-origin:0 0;">53% DV</div>
<div class="t" style="left:403.5px;top:1952.5px;font-size:26.0px;color:#6c6c6c;letter-spacing:-0.30px;-webkit-text-stroke:0.45px #fff;">SAT. FAT - 16 g</div>
<div class="t" style="left:430.0px;top:1979.5px;font-size:31.3px;color:#666;font-weight:700;transform:scaleX(0.9928);transform-origin:0 0;">82% DV</div>
<div class="t" style="left:29.2px;top:2089.1px;font-size:27.3px;color:#3a8296;letter-spacing:0.13px;-webkit-text-stroke:0.45px #fff;">HOW TO BURN</div>
<div class="t" style="left:29.8px;top:2116.0px;font-size:32.6px;color:#3a8296;font-weight:700;transform:scaleX(1.0214);transform-origin:0 0;">THOSE CALORIES</div>
<div class="t" style="left:48.6px;top:2292.2px;font-size:20.3px;color:#6c6c6c;letter-spacing:-0.09px;-webkit-text-stroke:0.45px #fff;">Cycling</div>
<div class="t" style="left:48.6px;top:2318.2px;font-size:19.8px;color:#666;font-weight:700;transform:scaleX(1.0522);transform-origin:0 0;">53 min</div>
<div class="t" style="left:203.0px;top:2292.2px;font-size:20.3px;color:#6c6c6c;letter-spacing:-0.02px;-webkit-text-stroke:0.45px #fff;">Pet Care</div>
<div class="t" style="left:206.5px;top:2318.2px;font-size:19.8px;color:#666;font-weight:700;transform:scaleX(0.9900);transform-origin:0 0;">151 min</div>
<div class="t" style="left:375.6px;top:2292.2px;font-size:20.3px;color:#6c6c6c;letter-spacing:-0.01px;-webkit-text-stroke:0.45px #fff;">Boxing</div>
<div class="t" style="left:373.6px;top:2318.2px;font-size:19.8px;color:#666;font-weight:700;transform:scaleX(1.0522);transform-origin:0 0;">28 min</div>
<div class="t" style="left:545.5px;top:2292.2px;font-size:20.3px;color:#6c6c6c;letter-spacing:0.48px;-webkit-text-stroke:0.45px #fff;">Yoga</div>
<div class="t" style="left:532.5px;top:2318.2px;font-size:19.8px;color:#666;font-weight:700;transform:scaleX(1.0049);transform-origin:0 0;">118 min</div>
<div class="t" style="left:406.0px;top:2381.6px;font-size:44.0px;color:#4aa87f;font-weight:700;transform:scaleX(1.0388);transform-origin:0 0;">VITAMINS</div>
<div class="t" style="left:443.5px;top:2428.2px;font-size:19.8px;color:#4aa87f;letter-spacing:-0.92px;-webkit-text-stroke:0.45px #fff;">(% OF DAILY VALUE)</div>
<div class="t" style="left:52.0px;top:2671.5px;font-size:22.4px;color:#8e8e8e;-webkit-text-stroke:0.35px #fff;">0</div>
<div class="t" style="left:37.1px;top:2636.1px;font-size:22.4px;color:#8e8e8e;letter-spacing:2.49px;-webkit-text-stroke:0.35px #fff;">40</div>
<div class="t" style="left:37.1px;top:2600.7px;font-size:22.4px;color:#8e8e8e;letter-spacing:2.49px;-webkit-text-stroke:0.35px #fff;">80</div>
<div class="t" style="left:23.4px;top:2565.3px;font-size:22.4px;color:#8e8e8e;letter-spacing:1.87px;-webkit-text-stroke:0.35px #fff;">120</div>
<div class="t" style="left:23.4px;top:2529.9px;font-size:22.4px;color:#8e8e8e;letter-spacing:1.87px;-webkit-text-stroke:0.35px #fff;">160</div>
<div class="t" style="left:23.4px;top:2494.4px;font-size:22.4px;color:#8e8e8e;letter-spacing:1.87px;-webkit-text-stroke:0.35px #fff;">200</div>
<div class="t" style="left:80.3px;top:2584.2px;font-size:21.3px;color:#62b68a;letter-spacing:2.37px;-webkit-text-stroke:0.35px #fff;">80</div>
<div class="t" style="left:85.8px;top:2689.1px;font-size:22.4px;color:#777;-webkit-text-stroke:0.35px #fff;">A</div>
<div class="t" style="left:131.8px;top:2649.8px;font-size:21.3px;color:#62b68a;-webkit-text-stroke:0.35px #fff;">6</div>
<div class="t" style="left:123.2px;top:2689.1px;font-size:22.4px;color:#777;letter-spacing:1.64px;-webkit-text-stroke:0.35px #fff;">B1</div>
<div class="t" style="left:169.2px;top:2636.5px;font-size:21.3px;color:#62b68a;letter-spacing:2.37px;-webkit-text-stroke:0.35px #fff;">21</div>
<div class="t" style="left:167.7px;top:2689.1px;font-size:22.4px;color:#777;letter-spacing:1.64px;-webkit-text-stroke:0.35px #fff;">B2</div>
<div class="t" style="left:220.7px;top:2652.4px;font-size:21.3px;color:#62b68a;-webkit-text-stroke:0.35px #fff;">3</div>
<div class="t" style="left:212.1px;top:2689.1px;font-size:22.4px;color:#777;letter-spacing:1.64px;-webkit-text-stroke:0.35px #fff;">B3</div>
<div class="t" style="left:258.1px;top:2644.4px;font-size:21.3px;color:#62b68a;letter-spacing:2.37px;-webkit-text-stroke:0.35px #fff;">12</div>
<div class="t" style="left:256.6px;top:2689.1px;font-size:22.4px;color:#777;letter-spacing:1.64px;-webkit-text-stroke:0.35px #fff;">B5</div>
<div class="t" style="left:309.6px;top:2649.8px;font-size:21.3px;color:#62b68a;-webkit-text-stroke:0.35px #fff;">6</div>
<div class="t" style="left:301.1px;top:2689.1px;font-size:22.4px;color:#777;letter-spacing:1.64px;-webkit-text-stroke:0.35px #fff;">B6</div>
<div class="t" style="left:347.0px;top:2637.4px;font-size:21.3px;color:#62b68a;letter-spacing:2.37px;-webkit-text-stroke:0.35px #fff;">20</div>
<div class="t" style="left:345.5px;top:2689.1px;font-size:22.4px;color:#777;letter-spacing:1.64px;-webkit-text-stroke:0.35px #fff;">B9</div>
<div class="t" style="left:391.5px;top:2640.0px;font-size:21.3px;color:#62b68a;letter-spacing:2.37px;-webkit-text-stroke:0.35px #fff;">17</div>
<div class="t" style="left:383.4px;top:2689.1px;font-size:22.4px;color:#777;letter-spacing:1.20px;-webkit-text-stroke:0.35px #fff;">B12</div>
<div class="t" style="left:443.0px;top:2651.5px;font-size:21.3px;color:#62b68a;-webkit-text-stroke:0.35px #fff;">4</div>
<div class="t" style="left:440.8px;top:2689.1px;font-size:22.4px;color:#777;-webkit-text-stroke:0.35px #fff;">C</div>
<div class="t" style="left:480.4px;top:2646.2px;font-size:21.3px;color:#62b68a;letter-spacing:2.37px;-webkit-text-stroke:0.35px #fff;">10</div>
<div class="t" style="left:485.3px;top:2689.1px;font-size:22.4px;color:#777;-webkit-text-stroke:0.35px #fff;">D</div>
<div class="t" style="left:525.7px;top:2645.3px;font-size:21.3px;color:#62b68a;letter-spacing:2.21px;-webkit-text-stroke:0.35px #fff;">11</div>
<div class="t" style="left:530.4px;top:2689.1px;font-size:22.4px;color:#777;-webkit-text-stroke:0.35px #fff;">E</div>
<div class="t" style="left:562.8px;top:2495.7px;font-size:21.3px;color:#62b68a;letter-spacing:1.78px;-webkit-text-stroke:0.35px #fff;">180</div>
<div class="t" style="left:574.8px;top:2689.1px;font-size:22.4px;color:#777;-webkit-text-stroke:0.35px #fff;">K</div>
<div class="t" style="left:32.5px;top:2765.6px;font-size:44.0px;color:#7a6be0;font-weight:700;transform:scaleX(0.9705);transform-origin:0 0;">MINERALS</div>
<div class="t" style="left:30.0px;top:2811.2px;font-size:19.8px;color:#7a6be0;letter-spacing:-0.98px;-webkit-text-stroke:0.45px #fff;">(% OF DAILY VALUE)</div>
<div class="t" style="left:52.0px;top:3054.9px;font-size:22.4px;color:#8e8e8e;-webkit-text-stroke:0.35px #fff;">0</div>
<div class="t" style="left:37.1px;top:3019.5px;font-size:22.4px;color:#8e8e8e;letter-spacing:2.49px;-webkit-text-stroke:0.35px #fff;">20</div>
<div class="t" style="left:37.1px;top:2984.1px;font-size:22.4px;color:#8e8e8e;letter-spacing:2.49px;-webkit-text-stroke:0.35px #fff;">40</div>
<div class="t" style="left:37.1px;top:2948.7px;font-size:22.4px;color:#8e8e8e;letter-spacing:2.49px;-webkit-text-stroke:0.35px #fff;">60</div>
<div class="t" style="left:37.1px;top:2913.3px;font-size:22.4px;color:#8e8e8e;letter-spacing:2.49px;-webkit-text-stroke:0.35px #fff;">80</div>
<div class="t" style="left:23.4px;top:2877.9px;font-size:22.4px;color:#8e8e8e;letter-spacing:1.87px;-webkit-text-stroke:0.35px #fff;">100</div>
<div class="t" style="left:86.9px;top:2983.6px;font-size:21.3px;color:#7b68e0;letter-spacing:2.37px;-webkit-text-stroke:0.35px #fff;">31</div>
<div class="t" style="left:84.7px;top:3072.5px;font-size:22.4px;color:#777;letter-spacing:1.72px;-webkit-text-stroke:0.35px #fff;">Ca</div>
<div class="t" style="left:153.4px;top:3027.8px;font-size:21.3px;color:#7b68e0;-webkit-text-stroke:0.35px #fff;">6</div>
<div class="t" style="left:144.1px;top:3072.5px;font-size:22.4px;color:#777;letter-spacing:1.72px;-webkit-text-stroke:0.35px #fff;">Cu</div>
<div class="t" style="left:206.5px;top:3019.0px;font-size:21.3px;color:#7b68e0;letter-spacing:2.21px;-webkit-text-stroke:0.35px #fff;">11</div>
<div class="t" style="left:204.8px;top:3072.5px;font-size:22.4px;color:#777;letter-spacing:1.57px;-webkit-text-stroke:0.35px #fff;">Fe</div>
<div class="t" style="left:272.1px;top:3026.1px;font-size:21.3px;color:#7b68e0;-webkit-text-stroke:0.35px #fff;">7</div>
<div class="t" style="left:270.6px;top:3072.5px;font-size:22.4px;color:#777;-webkit-text-stroke:0.35px #fff;">K</div>
<div class="t" style="left:324.4px;top:3020.8px;font-size:21.3px;color:#7b68e0;letter-spacing:2.37px;-webkit-text-stroke:0.35px #fff;">10</div>
<div class="t" style="left:321.0px;top:3072.5px;font-size:22.4px;color:#777;letter-spacing:1.87px;-webkit-text-stroke:0.35px #fff;">Mg</div>
<div class="t" style="left:383.8px;top:3015.5px;font-size:21.3px;color:#7b68e0;letter-spacing:2.37px;-webkit-text-stroke:0.35px #fff;">13</div>
<div class="t" style="left:380.3px;top:3072.5px;font-size:22.4px;color:#777;letter-spacing:1.87px;-webkit-text-stroke:0.35px #fff;">Mn</div>
<div class="t" style="left:443.2px;top:2996.0px;font-size:21.3px;color:#7b68e0;letter-spacing:2.37px;-webkit-text-stroke:0.35px #fff;">24</div>
<div class="t" style="left:448.8px;top:3072.5px;font-size:22.4px;color:#777;-webkit-text-stroke:0.35px #fff;">P</div>
<div class="t" style="left:502.6px;top:2996.0px;font-size:21.3px;color:#7b68e0;letter-spacing:2.37px;-webkit-text-stroke:0.35px #fff;">24</div>
<div class="t" style="left:501.1px;top:3072.5px;font-size:22.4px;color:#777;letter-spacing:1.64px;-webkit-text-stroke:0.35px #fff;">Se</div>
<div class="t" style="left:562.0px;top:3020.8px;font-size:21.3px;color:#7b68e0;letter-spacing:2.37px;-webkit-text-stroke:0.35px #fff;">10</div>
<div class="t" style="left:561.1px;top:3072.5px;font-size:22.4px;color:#777;letter-spacing:1.57px;-webkit-text-stroke:0.35px #fff;">Zn</div>
<div class="t" style="left:318.0px;top:3144.3px;font-size:44.0px;color:#edc06a;font-weight:700;transform:scaleX(1.0301);transform-origin:0 0;">AMINO ACIDS</div>
<div class="t" style="left:257.0px;top:3191.3px;font-size:20.1px;color:#edc06a;letter-spacing:-1.19px;-webkit-text-stroke:0.45px #fff;">THESE ARE ESSENTIAL FOR YOUR BODY</div>
<div class="t" style="left:54.5px;top:3258.7px;font-size:23.4px;color:#fff;font-weight:700;transform:scaleX(1.0210);transform-origin:0 0;">0.42</div>
<div class="t" style="left:73.5px;top:3281.2px;font-size:15.1px;color:#fff;">g</div>
<div class="t" style="left:36.4px;top:3320.8px;font-size:20.3px;color:#5c5c5c;letter-spacing:0.58px;-webkit-text-stroke:0.45px #fff;">Histidine</div>
<div class="t" style="left:178.8px;top:3258.7px;font-size:23.4px;color:#fff;font-weight:700;transform:scaleX(1.0210);transform-origin:0 0;">0.71</div>
<div class="t" style="left:197.8px;top:3281.2px;font-size:15.1px;color:#fff;">g</div>
<div class="t" style="left:153.6px;top:3320.8px;font-size:20.3px;color:#5c5c5c;letter-spacing:0.61px;-webkit-text-stroke:0.45px #fff;">Isoleucine</div>
<div class="t" style="left:302.2px;top:3258.7px;font-size:23.4px;color:#fff;font-weight:700;transform:scaleX(1.0210);transform-origin:0 0;">1.28</div>
<div class="t" style="left:321.3px;top:3281.2px;font-size:15.1px;color:#fff;">g</div>
<div class="t" style="left:287.8px;top:3320.8px;font-size:20.3px;color:#5c5c5c;letter-spacing:0.71px;-webkit-text-stroke:0.45px #fff;">Leucine</div>
<div class="t" style="left:426.8px;top:3258.7px;font-size:23.4px;color:#fff;font-weight:700;transform:scaleX(1.0210);transform-origin:0 0;">1.02</div>
<div class="t" style="left:445.8px;top:3281.2px;font-size:15.1px;color:#fff;">g</div>
<div class="t" style="left:419.3px;top:3320.8px;font-size:20.3px;color:#5c5c5c;letter-spacing:0.70px;-webkit-text-stroke:0.45px #fff;">Lysine</div>
<div class="t" style="left:553.2px;top:3258.7px;font-size:23.4px;color:#fff;font-weight:700;transform:scaleX(1.0210);transform-origin:0 0;">0.36</div>
<div class="t" style="left:572.3px;top:3281.2px;font-size:15.1px;color:#fff;">g</div>
<div class="t" style="left:523.9px;top:3320.8px;font-size:20.3px;color:#5c5c5c;letter-spacing:0.66px;-webkit-text-stroke:0.45px #fff;">Methionine</div>
<div class="t" style="left:54.5px;top:3388.2px;font-size:23.4px;color:#fff;font-weight:700;transform:scaleX(1.0210);transform-origin:0 0;">0.74</div>
<div class="t" style="left:73.5px;top:3410.7px;font-size:15.1px;color:#fff;">g</div>
<div class="t" style="left:10.1px;top:3450.3px;font-size:20.3px;color:#5c5c5c;letter-spacing:0.64px;-webkit-text-stroke:0.45px #fff;">Phenylalanine</div>
<div class="t" style="left:178.8px;top:3388.2px;font-size:23.4px;color:#fff;font-weight:700;transform:scaleX(1.0210);transform-origin:0 0;">0.51</div>
<div class="t" style="left:197.8px;top:3410.7px;font-size:15.1px;color:#fff;">g</div>
<div class="t" style="left:153.6px;top:3450.3px;font-size:20.3px;color:#5c5c5c;letter-spacing:0.69px;-webkit-text-stroke:0.45px #fff;">Threonine</div>
<div class="t" style="left:302.2px;top:3388.2px;font-size:23.4px;color:#fff;font-weight:700;transform:scaleX(1.0210);transform-origin:0 0;">0.19</div>
<div class="t" style="left:321.3px;top:3410.7px;font-size:15.1px;color:#fff;">g</div>
<div class="t" style="left:271.5px;top:3450.3px;font-size:20.3px;color:#5c5c5c;letter-spacing:0.68px;-webkit-text-stroke:0.45px #fff;">Tryptophan</div>
<div class="t" style="left:426.8px;top:3388.2px;font-size:23.4px;color:#fff;font-weight:700;transform:scaleX(1.0210);transform-origin:0 0;">0.93</div>
<div class="t" style="left:445.8px;top:3410.7px;font-size:15.1px;color:#fff;">g</div>
<div class="t" style="left:420.9px;top:3450.3px;font-size:20.3px;color:#5c5c5c;letter-spacing:0.66px;-webkit-text-stroke:0.45px #fff;">Valine</div>
<div class="t" style="left:306.7px;top:3534.0px;font-size:36.4px;color:#fff;letter-spacing:0.55px;-webkit-text-stroke:0.9px #407a52;">inlivo</div>
<div class="t" style="left:210.3px;top:3576.9px;font-size:16.1px;color:#fff;letter-spacing:-0.19px;">Nutrition Tracker &amp; Health Coach</div>
<div class="t" style="left:254.7px;top:3595.9px;font-size:16.7px;color:#fff;letter-spacing:2.14px;">www.inlivo.com</div>
<div class="t" style="left:90.2px;top:3628.5px;font-size:13.5px;color:#fff;letter-spacing:0.10px;">Nothing contained in this presentation and our services is intended or implied</div>
<div class="t" style="left:182.1px;top:3647.0px;font-size:13.5px;color:#fff;letter-spacing:0.12px;">to be a medical advice, diagnosis or treatment.</div>
<div class="t" style="left:163.7px;top:3724.4px;font-size:14.6px;color:#bdd3c4;font-weight:700;transform:scaleX(0.9070);transform-origin:0 0;">Available on your desktop, tablet and mobile phone</div>
</div>
</body></html>
